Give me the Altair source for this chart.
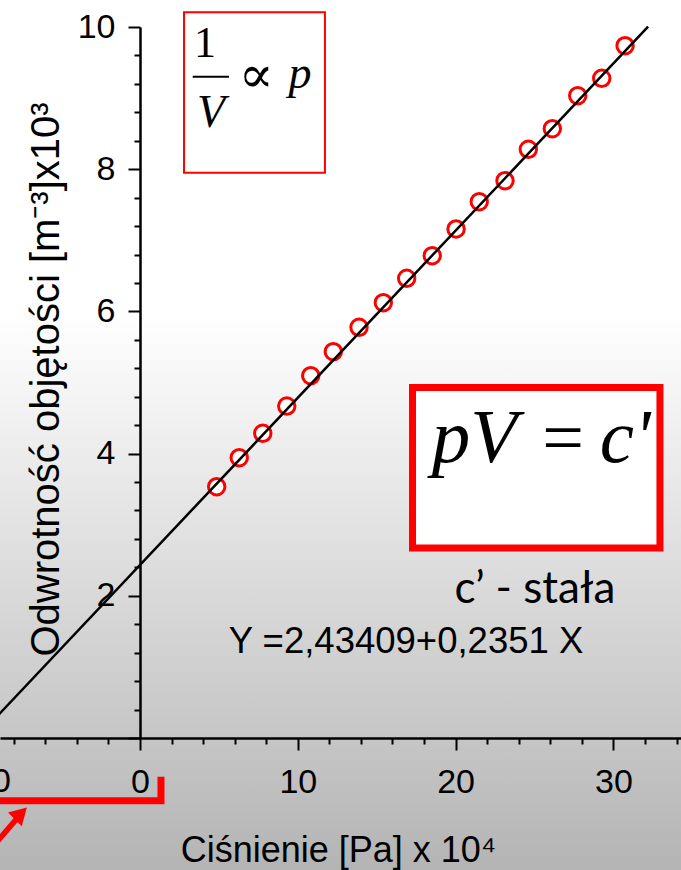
import altair as alt
import pandas as pd

# ---- data ----
pressure = [4.86, 6.29, 7.78, 9.30, 10.82, 12.25, 13.88, 15.42, 16.90, 18.52,
            20.03, 21.50, 23.13, 24.61, 26.13, 27.74, 29.26, 30.74]
inv_volume = [3.534, 3.942, 4.286, 4.669, 5.096, 5.433, 5.776, 6.122, 6.466, 6.783,
              7.159, 7.543, 7.838, 8.280, 8.570, 9.034, 9.278, 9.737]

# fitted line  Y = 2,43409 + 0,2351 X  (end points)
fit_x = [-10.0, 32.2]
fit_y = [0.083, 10.004]

x_tick_values = list(range(-10, 35, 2))
y_tick_values = [round(0.4 * k, 1) for k in range(26)]

X_DOMAIN = [-8.872, 34.284]
Y_DOMAIN = [0, 10]

# annotation geometry (in data units)
box1 = {"x": [2.79], "x2": [11.72], "y": [10.207], "y2": [7.951]}
box2 = {"x": [17.27], "x2": [32.95], "y": [4.930], "y2": [2.672]}
frac_bar_x = [3.34, 5.64]
frac_bar_y = [9.301, 9.301]
bracket_x = [-9.5, 1.33, 1.33]
bracket_y = [-0.883, -0.883, -0.544]
arrow_x = [-9.3, -7.75]
arrow_y = [-1.52, -1.12]
arrow_head = {"x": [-7.55], "y": [-1.06]}

xs = alt.Scale(domain=X_DOMAIN, nice=False, zero=False)
ys = alt.Scale(domain=Y_DOMAIN, nice=False, zero=False)

xaxis = alt.Axis(
    values=x_tick_values, format="~g",
    labelExpr="datum.value % 10 === 0 ? datum.label : ''",
    tickSize={"condition": {"test": "datum.value % 10 === 0", "value": 12}, "value": 6},
    tickWidth=2, tickColor="black", domainColor="black", domainWidth=2.5,
    labelFont="Liberation Sans", labelFontSize=34, labelColor="black",
    labelPadding=15, labelFlush=False, labelOverlap=False, grid=False,
    title="Ciśnienie [Pa] x 10⁴", titleFont="Liberation Sans", titleFontSize=36,
    titleFontWeight="normal", titleColor="black", titleX=338, titleY=123,
    titleAlign="center", titleBaseline="alphabetic", zindex=1,
)
yaxis = alt.Axis(
    orient="left", offset=-140,
    values=y_tick_values, format="~g",
    labelExpr="datum.value % 2 === 0 && datum.value > 0 ? datum.label : ''",
    tickSize={"condition": {"test": "datum.value % 2 === 0", "value": 12}, "value": 6},
    tickWidth=2, tickColor="black", domainColor="black", domainWidth=2.5,
    labelFont="Liberation Sans", labelFontSize=34, labelColor="black",
    labelPadding=13, labelFlush=False, labelOverlap=False, grid=False,
    title="Odwrotność objętości [m⁻³]x10³", titleFont="Liberation Sans", titleFontSize=40,
    titleFontWeight="normal", titleColor="black", titleAngle=270,
    titleX=-82, titleY=352, titleAlign="center", titleBaseline="alphabetic", zindex=1,
)

X = lambda f="x": alt.X(f"{f}:Q", scale=xs, axis=xaxis)
Y = lambda f="y": alt.Y(f"{f}:Q", scale=ys, axis=yaxis)

bg = alt.Chart(pd.DataFrame({"a": [0]})).mark_rect(
    color=alt.Gradient(
        gradient="linear",
        stops=[alt.GradientStop(color="#ffffff", offset=0),
               alt.GradientStop(color="#ffffff", offset=0.36),
               alt.GradientStop(color="#b4b4b4", offset=1)],
        x1=0, x2=0, y1=0, y2=1)
).encode(x=alt.value(0), x2=alt.value(681), y=alt.value(-27), y2=alt.value(843))

pts = alt.Chart(pd.DataFrame({"x": pressure, "y": inv_volume})).mark_point(
    shape="circle", filled=False, fill="white", fillOpacity=1, stroke="red",
    strokeWidth=3, size=270, opacity=1
).encode(x=X(), y=Y())

fit = alt.Chart(pd.DataFrame({"x": fit_x, "y": fit_y})).mark_line(
    color="black", strokeWidth=2.5
).encode(x=X(), y=Y())

b1 = alt.Chart(pd.DataFrame(box1)).mark_rect(
    fill="white", stroke="red", strokeWidth=2
).encode(x=X(), x2="x2:Q", y=Y(), y2="y2:Q")
b2 = alt.Chart(pd.DataFrame(box2)).mark_rect(
    fill="white", stroke="red", strokeWidth=7
).encode(x=X(), x2="x2:Q", y=Y(), y2="y2:Q")

bar = alt.Chart(pd.DataFrame({"x": frac_bar_x, "y": frac_bar_y})).mark_line(
    color="black", strokeWidth=2
).encode(x=X(), y=Y())

def txt(s, x, y, font, size, style="normal", align="center", baseline="alphabetic",
        weight="normal"):
    return alt.Chart(pd.DataFrame({"x": [x], "y": [y], "t": [s]})).mark_text(
        font=font, fontSize=size, fontStyle=style, align=align, fontWeight=weight,
        baseline=baseline, color="black"
    ).encode(x=X(), y=Y(), text="t:N")

t1 = txt("1", 4.12, 9.578, "Liberation Serif", 44)
tV = txt("V", 4.5, 8.598, "Liberation Serif", 46, "italic")
tprop = txt("∝", 7.35, 9.09, "DejaVu Sans ExtraLight, DejaVu Serif", 52, weight=200)
tp = txt("p", 10.14, 9.142, "Liberation Serif", 46, "italic")
tpv1 = txt("pV", 21.20, 3.882, "Liberation Serif", 77, "italic")
tpv2 = txt("=", 26.81, 3.882, "Liberation Serif", 74)
tpv3 = txt("c'", 30.74, 3.882, "Liberation Serif", 77, "italic")
tc = txt("c’ - stała", 25.03, 1.899, "Lato", 44)
teq = txt("Y =2,43409+0,2351 X", 16.86, 1.195, "Liberation Sans", 36.5)
tm10 = txt("−10", -10, -0.38, "Liberation Sans", 34, baseline="top")

brk = alt.Chart(pd.DataFrame({"x": bracket_x, "y": bracket_y, "o": [0, 1, 2]})).mark_line(
    color="red", strokeWidth=7, strokeCap="butt", strokeJoin="miter"
).encode(x=X(), y=Y(), order="o:Q")

arr = alt.Chart(pd.DataFrame({"x": arrow_x, "y": arrow_y})).mark_line(
    color="red", strokeWidth=5.5
).encode(x=X(), y=Y())
head = alt.Chart(pd.DataFrame(arrow_head)).mark_point(
    shape="triangle-up", filled=True, color="red", size=380, angle=45, opacity=1
).encode(x=X(), y=Y())

chart = alt.layer(
    bg, pts, fit, b1, b2, bar, t1, tV, tprop, tp, tpv1, tpv2, tpv3, tc, teq, tm10,
    brk, arr, head
).properties(
    width=681, height=711,
    autosize=alt.AutoSizeParams(type="none"),
    padding={"left": 0, "top": 27, "right": 0, "bottom": 132},
).configure_view(stroke=None).configure(background="white")

chart.save("out.html", embed_options={"renderer": "svg", "actions": False})
